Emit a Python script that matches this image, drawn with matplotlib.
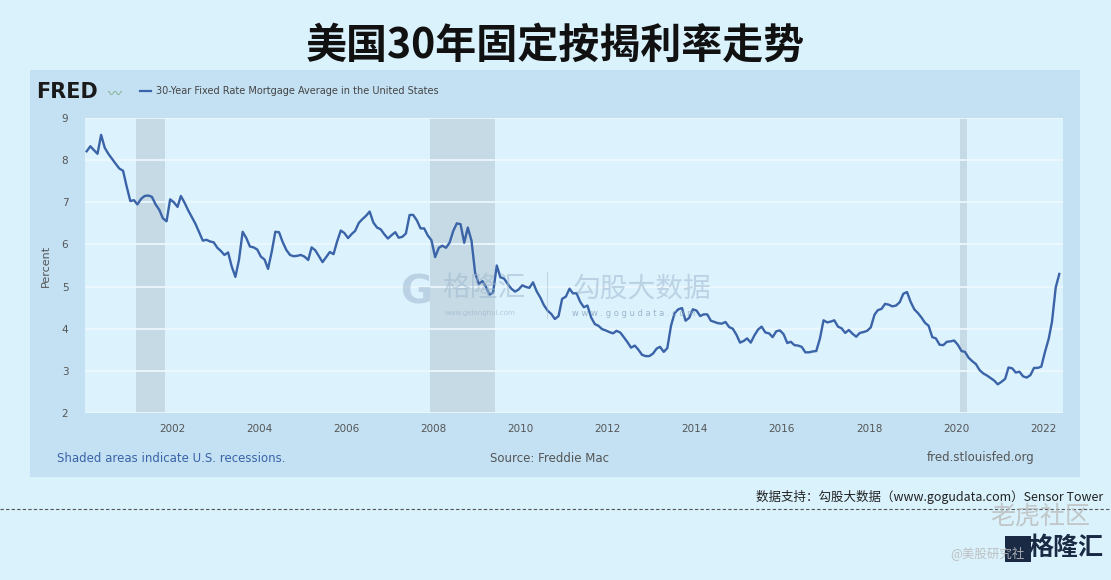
import pandas as pd
import matplotlib.pyplot as plt
import matplotlib.dates as mdates
from matplotlib.patches import Rectangle

plt.rcParams['font.family'] = ['Noto Sans CJK SC', 'DejaVu Sans']

# 30年固定按揭利率（月度，%）
rates_2000s = [
    8.21, 8.33, 8.24, 8.15, 8.60, 8.29, 8.15, 8.03, 7.91, 7.80, 7.75, 7.38,
    7.03, 7.05, 6.95, 7.08, 7.15, 7.16, 7.13, 6.95, 6.82, 6.62, 6.55, 7.07,
    7.00, 6.89, 7.15, 6.99, 6.81, 6.65, 6.49, 6.29, 6.09, 6.11, 6.07, 6.05,
    5.92, 5.84, 5.75, 5.81, 5.48, 5.23, 5.63, 6.30, 6.15, 5.95, 5.93, 5.88,
    5.71, 5.64, 5.42, 5.83, 6.30, 6.29, 6.06, 5.87, 5.75, 5.72, 5.73, 5.75,
    5.71, 5.63, 5.93, 5.86, 5.72, 5.58, 5.70, 5.82, 5.77, 6.07, 6.33, 6.27,
    6.15, 6.25, 6.32, 6.51, 6.60, 6.68, 6.78, 6.52, 6.40, 6.36, 6.24, 6.14,
    6.22, 6.29, 6.16, 6.18, 6.26, 6.70, 6.70, 6.57, 6.38, 6.38, 6.21, 6.10,
    5.70, 5.92, 5.97, 5.92, 6.04, 6.32, 6.50, 6.48, 6.04, 6.40, 6.09, 5.33,
    5.06, 5.13, 5.00, 4.81, 4.86, 5.50, 5.22, 5.19, 5.06, 4.95, 4.88, 4.93,
]
rates_2010s = [
    5.03, 4.99, 4.97, 5.10, 4.89, 4.74, 4.56, 4.43, 4.35, 4.23, 4.30, 4.71,
    4.76, 4.95, 4.84, 4.84, 4.64, 4.51, 4.55, 4.27, 4.11, 4.07, 3.99, 3.96,
    3.92, 3.89, 3.95, 3.91, 3.80, 3.68, 3.55, 3.60, 3.50, 3.38, 3.35, 3.35,
    3.41, 3.53, 3.57, 3.45, 3.54, 4.07, 4.37, 4.46, 4.49, 4.19, 4.26, 4.46,
    4.43, 4.30, 4.34, 4.34, 4.19, 4.16, 4.13, 4.12, 4.16, 4.04, 4.00, 3.86,
    3.67, 3.71, 3.77, 3.67, 3.84, 3.98, 4.05, 3.91, 3.89, 3.80, 3.94, 3.96,
    3.87, 3.66, 3.69, 3.61, 3.60, 3.57, 3.44, 3.44, 3.46, 3.47, 3.77, 4.20,
    4.15, 4.17, 4.20, 4.05, 4.01, 3.90, 3.97, 3.88, 3.81, 3.90, 3.92, 3.95,
    4.03, 4.33, 4.44, 4.47, 4.59, 4.57, 4.53, 4.55, 4.63, 4.83, 4.87, 4.64,
    4.46, 4.37, 4.27, 4.14, 4.07, 3.80, 3.77, 3.62, 3.61, 3.69, 3.70, 3.72,
]
rates_2020s = [
    3.62, 3.47, 3.45, 3.31, 3.23, 3.16, 3.02, 2.94, 2.89, 2.83, 2.77, 2.68,
    2.74, 2.81, 3.08, 3.06, 2.96, 2.98, 2.87, 2.84, 2.90, 3.07, 3.07, 3.10,
    3.45, 3.76, 4.17, 4.98, 5.30,
]
rates = rates_2000s + rates_2010s + rates_2020s
dates = pd.date_range("2000-01-01", periods=len(rates), freq="MS") + pd.Timedelta(days=14)

# 衰退期
recessions = [("2001-03-01", "2001-11-01"), ("2007-12-01", "2009-06-01"), ("2020-02-01", "2020-04-01")]
tick_years = list(range(2002, 2023, 2))
y_ticks = [2, 3, 4, 5, 6, 7, 8, 9]

W, H = 1111, 580
fig = plt.figure(figsize=(W / 100, H / 100), dpi=100)
fig.patch.set_facecolor("#d9f2fc")

# FRED 面板背景
fig.patches.append(Rectangle((30 / W, (H - 477) / H), 1050 / W, 407 / H,
                             transform=fig.transFigure, facecolor="#c3e1f3", edgecolor="none", zorder=-5))

ax = fig.add_axes([85 / W, (H - 413) / H, (1063 - 85) / W, (413 - 118) / H])
ax.set_zorder(2)
ax.set_facecolor("#dcf3fd")

for start, end in recessions:
    ax.axvspan(pd.Timestamp(start), pd.Timestamp(end), color="#c5dae4", lw=0, zorder=1)

ax.plot(dates, rates, color="#3a63a8", lw=1.7, zorder=3)

ax.set_xlim(pd.Timestamp("2000-01-01"), pd.Timestamp("2022-06-15"))
ax.set_ylim(2, 9)
ax.set_yticks(y_ticks)
ax.set_xticks([pd.Timestamp(f"{y}-01-01") for y in tick_years])
ax.xaxis.set_major_formatter(mdates.DateFormatter("%Y"))
ax.tick_params(axis="both", length=0, labelsize=7.5, colors="#555555", labelfontfamily="DejaVu Sans")
ax.tick_params(axis="y", pad=12)
ax.tick_params(axis="x", pad=8)
ax.grid(axis="y", color="#eef9fe", lw=1.2, zorder=2)
for s in ax.spines.values():
    s.set_visible(False)
ax.set_ylabel("Percent", fontsize=8, color="#555555", family="DejaVu Sans", labelpad=8)

# 标题
fig.text(0.5, 1 - 45 / H, "美国30年固定按揭利率走势", ha="center", va="center",
         fontsize=29.5, fontweight="bold", color="#111111")

# FRED 图例
fig.text(36 / W, 1 - 92 / H, "FRED", ha="left", va="center", fontsize=15,
         fontweight="bold", color="#1a1a1a", family="DejaVu Sans")
fig.text(108 / W, 1 - 93 / H, "〰", ha="left", va="center", fontsize=10, color="#7aa87a")
fig.lines.append(plt.Line2D([140 / W, 151 / W], [1 - 91 / H, 1 - 91 / H],
                            transform=fig.transFigure, color="#3a63a8", lw=1.6))
fig.text(156 / W, 1 - 91 / H, "30-Year Fixed Rate Mortgage Average in the United States",
         ha="left", va="center", fontsize=7, color="#444444", family="DejaVu Sans")

# 面板底部文字
fig.text(57 / W, 1 - 458 / H, "Shaded areas indicate U.S. recessions.", ha="left", va="center",
         fontsize=8.5, color="#3a63a8", family="DejaVu Sans")
fig.text(490 / W, 1 - 458 / H, "Source: Freddie Mac", ha="left", va="center",
         fontsize=8.5, color="#555555", family="DejaVu Sans")
fig.text(1035 / W, 1 - 458 / H, "fred.stlouisfed.org", ha="right", va="center",
         fontsize=8.5, color="#555555", family="DejaVu Sans")

# 水印
fig.text(400 / W, 1 - 292 / H, "G", ha="left", va="center", fontsize=28, fontweight="bold",
         color="#9fb8cf", alpha=0.55, family="DejaVu Sans", zorder=10)
fig.text(442 / W, 1 - 288 / H, "格隆汇", ha="left", va="center", fontsize=20,
         color="#9fb8cf", alpha=0.55, zorder=10)
fig.text(445 / W, 1 - 313 / H, "www.gelonghui.com", ha="left", va="center", fontsize=5,
         color="#9fb8cf", alpha=0.7, family="DejaVu Sans", zorder=10)
fig.lines.append(plt.Line2D([547 / W, 547 / W], [1 - 272 / H, 1 - 318 / H],
                            transform=fig.transFigure, color="#9fb8cf", lw=0.6, alpha=0.6, zorder=10))
fig.text(573 / W, 1 - 289 / H, "勾股大数据", ha="left", va="center", fontsize=20,
         color="#9fb8cf", alpha=0.55, zorder=10)
fig.text(572 / W, 1 - 313 / H, "w w w . g o g u d a t a . c o m", ha="left", va="center",
         fontsize=6, color="#8aa6bf", alpha=0.8, family="DejaVu Sans", zorder=10)

# 数据来源
fig.text(1103 / W, 1 - 497 / H, "数据支持：勾股大数据（www.gogudata.com）Sensor Tower",
         ha="right", va="center", fontsize=9, color="#222222")
fig.lines.append(plt.Line2D([0, 1], [1 - 509 / H, 1 - 509 / H], transform=fig.transFigure,
                            color="#555555", lw=0.8, ls=(0, (3, 2))))

fig.text(1090 / W, 1 - 517 / H, "老虎社区", ha="right", va="center", fontsize=18,
         color="#bbbbbb", alpha=0.8)
fig.patches.append(Rectangle((1005 / W, (H - 562) / H), 26 / W, 26 / H,
                             transform=fig.transFigure, facecolor="#1a2a44", edgecolor="none", zorder=3))
fig.text(1103 / W, 1 - 548 / H, "格隆汇", ha="right", va="center", fontsize=18,
         fontweight="bold", color="#1a2a44")
fig.text(950 / W, 1 - 553 / H, "@美股研究社", ha="left", va="center", fontsize=9,
         color="#bbbbbb", alpha=0.9)

fig.savefig("out.png", dpi=100, facecolor=fig.get_facecolor())
